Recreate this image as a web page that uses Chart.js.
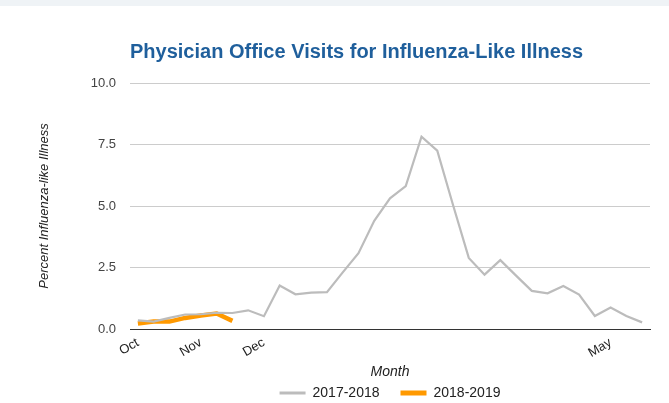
<!DOCTYPE html>
<html>
<head>
<meta charset="utf-8">
<title>Physician Office Visits for Influenza-Like Illness</title>
<script src="https://cdn.jsdelivr.net/npm/chart.js@4/dist/chart.umd.min.js"></script>
<style>
  html, body { margin: 0; padding: 0; background: #ffffff; overflow: hidden; }
  .topbar { height: 6px; background: #eff3f6; }
  .chart-box { position: relative; width: 669px; height: 397px; }
</style>
</head>
<body>
<div class="topbar"></div>
<div class="chart-box">
  <canvas id="iliChart"></canvas>
</div>
<script>
// Week labels (MMWR weeks 40 through 20), only month starts are named
const weekLabels = [
  "Oct", "", "", "", "Nov", "", "", "", "Dec", "", "", "",
  "", "", "", "", "", "", "", "", "", "", "", "",
  "", "", "", "", "", "", "May", "", ""
];

// Percent of visits for influenza-like illness
const season2017 = [
  0.35, 0.3, 0.45, 0.59, 0.6, 0.66, 0.65, 0.76, 0.52, 1.77, 1.41,
  1.48, 1.5, 2.3, 3.08, 4.4, 5.31, 5.81, 7.82, 7.25, 5.04, 2.89,
  2.21, 2.8, 2.17, 1.55, 1.45, 1.75, 1.4, 0.53, 0.87, 0.53, 0.27
];
const season2018 = [0.22, 0.3, 0.3, 0.45, 0.55, 0.63, 0.33];

const yTickLabels = ["0.0", "2.5", "5.0", "7.5", "10.0"];

/******************************************* Render the chart *******************************************/
new Chart(document.getElementById("iliChart"), {
  type: "line",
  data: {
    labels: weekLabels,
    datasets: [
      {
        label: "2017-2018",
        data: season2017,
        borderColor: "#bcbcbc",
        backgroundColor: "#bcbcbc",
        borderWidth: 2.2,
        pointRadius: 0,
        pointBorderColor: "#bcbcbc",
        pointBorderWidth: 3,
        tension: 0,
      },
      {
        label: "2018-2019",
        data: season2018,
        borderColor: "#ff9900",
        backgroundColor: "#ff9900",
        borderWidth: 4.5,
        pointRadius: 0,
        pointBorderColor: "#ff9900",
        pointBorderWidth: 5,
        tension: 0,
      },
    ],
  },
  options: {
    responsive: true,
    maintainAspectRatio: false,
    animation: false,
    layout: { padding: { left: 0, right: 19, top: 0, bottom: 0 } },
    plugins: {
      title: {
        display: true,
        text: "Physician Office Visits for Influenza-Like Illness",
        color: "#1f5f9c",
        align: "start",
        fullSize: false,
        font: { family: "'Liberation Sans', Arial, sans-serif", size: 20, weight: "bold" },
        padding: { top: 34, bottom: 19 },
      },
      legend: {
        position: "bottom",
        fullSize: false,
        maxHeight: 38,
        labels: {
          usePointStyle: true,
          pointStyle: "line",
          pointStyleWidth: 26,
          boxWidth: 26,
          padding: 21,
          color: "#222222",
          font: { family: "'Liberation Sans', Arial, sans-serif", size: 14 },
        },
      },
      tooltip: { enabled: false },
    },
    scales: {
      x: {
        type: "category",
        offset: true,
        afterFit: (axis) => {
          axis.height = 36;
        },
        grid: { display: false, drawTicks: false },
        border: { display: true, color: "#333333", width: 1 },
        ticks: {
          autoSkip: false,
          maxRotation: 30,
          minRotation: 30,
          padding: 6,
          color: "#222222",
          font: { family: "'Liberation Sans', Arial, sans-serif", size: 13 },
        },
        title: {
          display: true,
          text: "Month",
          color: "#222222",
          padding: { top: 0, bottom: -16 },
          font: { family: "'Liberation Sans', Arial, sans-serif", size: 14, style: "italic" },
        },
      },
      y: {
        min: 0,
        max: 10,
        afterFit: (axis) => {
          axis.width = 130;
        },
        grid: {
          drawTicks: false,
          color: (ctx) => (ctx.tick && ctx.tick.value === 0 ? "#333333" : "#cccccc"),
        },
        border: { display: false },
        ticks: {
          stepSize: 2.5,
          padding: 14,
          color: "#444444",
          font: { family: "'Liberation Sans', Arial, sans-serif", size: 13 },
          callback: (value, index) => yTickLabels[index],
        },
        title: {
          display: true,
          text: "Percent Influenza-like Illness",
          color: "#222222",
          padding: { top: 37, bottom: 0 },
          font: { family: "'Liberation Sans', Arial, sans-serif", size: 13, style: "italic" },
        },
      },
    },
  },
});
</script>
</body>
</html>
